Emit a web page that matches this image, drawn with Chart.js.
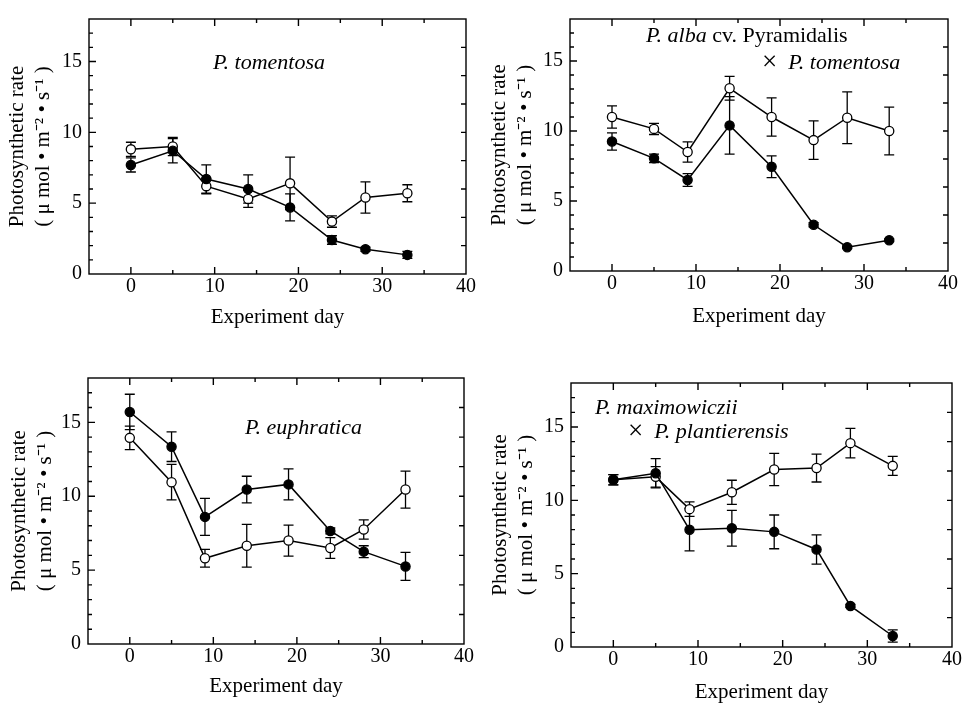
<!DOCTYPE html>
<html>
<head>
<meta charset="utf-8">
<title>Photosynthetic rate during the experiment</title>
<script src="https://cdn.jsdelivr.net/npm/chart.js@4.4.1/dist/chart.umd.min.js"></script>
<style>
    body { margin: 0; background: #fff; }
    #wrap { position: relative; width: 964px; height: 705px; overflow: hidden; }
    #wrap canvas { position: absolute; }
</style>
</head>
<body>
<div id="wrap">
    <canvas id="chartTL" width="482" height="352" style="left:0;top:0"></canvas>
    <canvas id="chartTR" width="482" height="352" style="left:482px;top:0"></canvas>
    <canvas id="chartBL" width="482" height="353" style="left:0;top:352px"></canvas>
    <canvas id="chartBR" width="482" height="353" style="left:482px;top:352px"></canvas>
</div>
<script>
// sampling days and axis ticks
var days = [0, 5, 9, 14, 19, 24, 28, 33];
var xTicks = [0, 10, 20, 30, 40];
var yTicks = [0, 5, 10, 15];

// P. tomentosa
var tomOpen = [8.8, 9.0, 6.2, 5.3, 6.4, 3.7, 5.4, 5.7];
var tomOpenErr = [0.5, 0.65, 0.55, 0.6, 1.85, 0.4, 1.1, 0.6];
var tomFilled = [7.7, 8.7, 6.7, 6.0, 4.7, 2.4, 1.75, 1.35];
var tomFilledErr = [0.5, 0.85, 1.0, 1.0, 0.95, 0.3, 0.15, 0.25];

// P. alba cv. Pyramidalis x P. tomentosa
var albaOpen = [11.0, 10.15, 8.5, 13.05, 11.0, 9.35, 10.95, 10.0];
var albaOpenErr = [0.8, 0.4, 0.72, 0.85, 1.37, 1.38, 1.85, 1.7];
var albaFilled = [9.25, 8.05, 6.5, 10.4, 7.45, 3.3, 1.7, 2.2];
var albaFilledErr = [0.62, 0.3, 0.45, 2.05, 0.78, 0.15, 0.1, 0.1];

// P. euphratica
var euphOpen = [13.95, 10.95, 5.8, 6.65, 7.0, 6.5, 7.75, 10.45];
var euphOpenErr = [0.8, 1.2, 0.6, 1.45, 1.05, 0.7, 0.65, 1.25];
var euphFilled = [15.7, 13.35, 8.6, 10.45, 10.8, 7.65, 6.25, 5.25];
var euphFilledErr = [1.2, 1.0, 1.25, 0.9, 1.05, 0.2, 0.4, 0.95];

// P. maximowiczii x P. plantierensis
var maxiOpen = [11.4, 11.6, 9.4, 10.55, 12.1, 12.2, 13.9, 12.35];
var maxiOpenErr = [0.35, 0.7, 0.5, 0.82, 1.1, 0.95, 1.0, 0.65];
var maxiFilled = [11.4, 11.85, 8.0, 8.1, 7.85, 6.65, 2.8, 0.75];
var maxiFilledErr = [0.35, 1.0, 1.45, 1.22, 1.15, 1.0, 0.1, 0.42];

// panel names, [text, style] pieces: i = italic, r = roman, x = cross sign
var tomName = [[['P. tomentosa', 'i']]];
var albaName = [[['P. alba', 'i'], [' cv. Pyramidalis', 'r']], [['\u00D7', 'x'], ['  ', 'r'], ['P. tomentosa', 'i']]];
var euphName = [[['P. euphratica', 'i']]];
var maxiName = [[['P. maximowiczii', 'i']], [['\u00D7', 'x'], ['  ', 'r'], ['P. plantierensis', 'i']]];

var xTitle = 'Experiment day';
var yTitle = ['Photosynthetic rate', '( \u03BC mol \u2022 m\u207B\u00B2 \u2022 s\u207B\u00B9 )'];

var SERIF = '"Liberation Serif", "Times New Roman", serif';

function pairs(vals) {
    return days.map(function (d, i) { return { x: d, y: vals[i] }; });
}

// error bars drawn under the markers
var errorBars = {
    id: 'errorBars',
    beforeDatasetsDraw: function (chart) {
        var ctx = chart.ctx;
        var ys = chart.scales.y;
        ctx.save();
        ctx.strokeStyle = '#000';
        ctx.lineWidth = 1.3;
        chart.data.datasets.forEach(function (ds, i) {
            var meta = chart.getDatasetMeta(i);
            meta.data.forEach(function (pt, j) {
                var err = ds.errors[j];
                if (!err) return;
                var top = ys.getPixelForValue(ds.data[j].y + err);
                var bot = ys.getPixelForValue(ds.data[j].y - err);
                ctx.beginPath();
                ctx.moveTo(pt.x, top); ctx.lineTo(pt.x, bot);
                ctx.moveTo(pt.x - 5, top); ctx.lineTo(pt.x + 5, top);
                ctx.moveTo(pt.x - 5, bot); ctx.lineTo(pt.x + 5, bot);
                ctx.stroke();
            });
        });
        ctx.restore();
    }
};

// closed box with inward ticks on all four sides
var frameTicks = {
    id: 'frameTicks',
    afterDatasetsDraw: function (chart) {
        var a = chart.chartArea, ctx = chart.ctx;
        var xs = chart.scales.x, ys = chart.scales.y;
        ctx.save();
        ctx.strokeStyle = '#000';
        ctx.lineWidth = 1.4;
        ctx.strokeRect(a.left, a.top, a.right - a.left, a.bottom - a.top);
        ctx.beginPath();
        for (var v = 1; v < ys.max; v++) {
            var py = ys.getPixelForValue(v);
            ctx.moveTo(a.left, py);
            ctx.lineTo(a.left + (v % 5 === 0 ? 7 : 4), py);
            if (v % 2 === 0) {
                ctx.moveTo(a.right, py);
                ctx.lineTo(a.right - 5, py);
            }
        }
        for (var u = 0; u < xs.max; u += 5) {
            var px = xs.getPixelForValue(u);
            var len = u % 10 === 0 ? 7 : 4;
            ctx.moveTo(px, a.bottom); ctx.lineTo(px, a.bottom - len);
            ctx.moveTo(px, a.top); ctx.lineTo(px, a.top + len);
        }
        ctx.stroke();
        ctx.restore();
    }
};

function nameLabel(lines, at) {
    return {
        id: 'nameLabel',
        afterDraw: function (chart) {
            var ctx = chart.ctx;
            ctx.save();
            ctx.fillStyle = '#000';
            ctx.textBaseline = 'middle';
            lines.forEach(function (line, k) {
                var x = at[k][0], y = at[k][1];
                line.forEach(function (seg) {
                    if (seg[1] === 'i') ctx.font = 'italic 22px ' + SERIF;
                    else if (seg[1] === 'x') ctx.font = '27px ' + SERIF;
                    else ctx.font = '22px ' + SERIF;
                    ctx.fillText(seg[0], x, y);
                    x += ctx.measureText(seg[0]).width;
                });
            });
            ctx.restore();
        }
    };
}

function makePanel(id, p) {
    var canvas = document.getElementById(id);
    var W = canvas.width, H = canvas.height, box = p.box;
    var pointStyle = { borderColor: '#000', borderWidth: 1.5, pointRadius: 4.6, pointHoverRadius: 4.6, pointBorderColor: '#000', pointBorderWidth: 1.3, tension: 0 };

    return new Chart(canvas.getContext('2d'), {
        type: 'line',
        data: {
            datasets: [
                Object.assign({ label: 'filled circles', data: pairs(p.filled), errors: p.filledErr, pointBackgroundColor: '#000' }, pointStyle),
                Object.assign({ label: 'open circles', data: pairs(p.open), errors: p.openErr, pointBackgroundColor: '#fff' }, pointStyle)
            ]
        },
        options: {
            responsive: false,
            animation: false,
            layout: { padding: { top: box[1], right: W - box[2], left: 0, bottom: 0 } },
            plugins: { legend: { display: false }, tooltip: { enabled: false } },
            scales: {
                x: {
                    type: 'linear', min: -5, max: 40,
                    afterBuildTicks: function (s) { s.ticks = xTicks.map(function (v) { return { value: v }; }); },
                    afterFit: function (s) { s.height = H - box[3]; },
                    grid: { display: false, drawTicks: false },
                    border: { display: false },
                    ticks: { padding: 1, color: '#000', font: { family: SERIF, size: 20 } },
                    title: { display: true, text: xTitle, color: '#000', font: { family: SERIF, size: 21 }, padding: { top: 0, bottom: p.xPad } }
                },
                y: {
                    type: 'linear', min: 0, max: 18,
                    afterBuildTicks: function (s) { s.ticks = yTicks.map(function (v) { return { value: v }; }); },
                    afterFit: function (s) { s.width = box[0]; },
                    grid: { display: false, drawTicks: false },
                    border: { display: false },
                    ticks: { padding: 7, color: '#000', font: { family: SERIF, size: 20 } },
                    title: { display: true, text: yTitle, color: '#000', font: { family: SERIF, size: 21, lineHeight: 1.25 }, padding: { top: p.yPad, bottom: 0 } }
                }
            }
        },
        plugins: [errorBars, frameTicks, nameLabel(p.name, p.nameAt)]
    });
}

makePanel('chartTL', { open: tomOpen, openErr: tomOpenErr, filled: tomFilled, filledErr: tomFilledErr,
    box: [89, 10, 466, 274], xPad: 22, yPad: 4.4, name: tomName, nameAt: [[213, 63]] });
makePanel('chartTR', { open: albaOpen, openErr: albaOpenErr, filled: albaFilled, filledErr: albaFilledErr,
    box: [88, 7, 466, 271], xPad: 23, yPad: 4.4, name: albaName, nameAt: [[164, 36], [280, 63]] });
makePanel('chartBL', { open: euphOpen, openErr: euphOpenErr, filled: euphFilled, filledErr: euphFilledErr,
    box: [88, 26, 464, 292], xPad: 6, yPad: 6, name: euphName, nameAt: [[245, 76]] });
makePanel('chartBR', { open: maxiOpen, openErr: maxiOpenErr, filled: maxiFilled, filledErr: maxiFilledErr,
    box: [89, 31, 470, 295], xPad: 0, yPad: 5, name: maxiName, nameAt: [[113, 56], [146, 80]] });
</script>
</body>
</html>
